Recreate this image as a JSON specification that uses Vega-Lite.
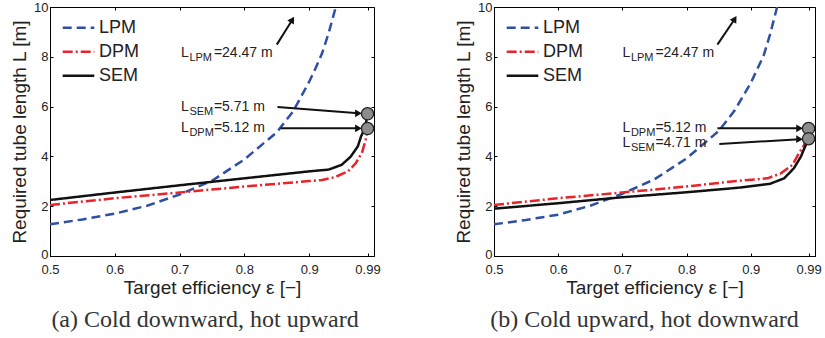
{
  "$schema": "https://vega.github.io/schema/vega-lite/v6.json",
  "background": "white",
  "padding": {"left": 10, "top": 0, "right": 5, "bottom": 0},
  "spacing": 73,
  "datasets": {
    "curves_a": [
      {"model": "LPM", "eps": 0.5, "L": 1.27}, {"model": "LPM", "eps": 0.55, "L": 1.47}, {"model": "LPM", "eps": 0.6, "L": 1.7},
      {"model": "LPM", "eps": 0.65, "L": 2.02}, {"model": "LPM", "eps": 0.7, "L": 2.47}, {"model": "LPM", "eps": 0.75, "L": 3.02},
      {"model": "LPM", "eps": 0.8, "L": 3.88}, {"model": "LPM", "eps": 0.85, "L": 4.97}, {"model": "LPM", "eps": 0.875, "L": 5.8},
      {"model": "LPM", "eps": 0.9, "L": 7.0}, {"model": "LPM", "eps": 0.91, "L": 7.55}, {"model": "LPM", "eps": 0.92, "L": 8.15},
      {"model": "LPM", "eps": 0.93, "L": 8.95}, {"model": "LPM", "eps": 0.94, "L": 9.9}, {"model": "LPM", "eps": 0.95, "L": 11.0},
      {"model": "LPM", "eps": 0.97, "L": 14.5}, {"model": "LPM", "eps": 0.99, "L": 24.47},
      {"model": "DPM", "eps": 0.5, "L": 2.05}, {"model": "DPM", "eps": 0.6, "L": 2.32}, {"model": "DPM", "eps": 0.7, "L": 2.55},
      {"model": "DPM", "eps": 0.8, "L": 2.79}, {"model": "DPM", "eps": 0.85, "L": 2.9}, {"model": "DPM", "eps": 0.9, "L": 3.01},
      {"model": "DPM", "eps": 0.92, "L": 3.05}, {"model": "DPM", "eps": 0.94, "L": 3.17}, {"model": "DPM", "eps": 0.96, "L": 3.4},
      {"model": "DPM", "eps": 0.972, "L": 3.73}, {"model": "DPM", "eps": 0.982, "L": 4.19}, {"model": "DPM", "eps": 0.987, "L": 4.66},
      {"model": "DPM", "eps": 0.99, "L": 5.12},
      {"model": "SEM", "eps": 0.5, "L": 2.25}, {"model": "SEM", "eps": 0.6, "L": 2.55}, {"model": "SEM", "eps": 0.7, "L": 2.84},
      {"model": "SEM", "eps": 0.8, "L": 3.12}, {"model": "SEM", "eps": 0.85, "L": 3.26}, {"model": "SEM", "eps": 0.9, "L": 3.4},
      {"model": "SEM", "eps": 0.93, "L": 3.47}, {"model": "SEM", "eps": 0.95, "L": 3.66}, {"model": "SEM", "eps": 0.964, "L": 3.99},
      {"model": "SEM", "eps": 0.975, "L": 4.4}, {"model": "SEM", "eps": 0.98, "L": 4.8}, {"model": "SEM", "eps": 0.9835, "L": 5.0},
      {"model": "SEM", "eps": 0.987, "L": 5.25}, {"model": "SEM", "eps": 0.99, "L": 5.71}
    ],
    "curves_b": [
      {"model": "LPM", "eps": 0.5, "L": 1.27}, {"model": "LPM", "eps": 0.55, "L": 1.45}, {"model": "LPM", "eps": 0.6, "L": 1.66},
      {"model": "LPM", "eps": 0.65, "L": 2.02}, {"model": "LPM", "eps": 0.7, "L": 2.5}, {"model": "LPM", "eps": 0.75, "L": 3.08},
      {"model": "LPM", "eps": 0.8, "L": 3.92}, {"model": "LPM", "eps": 0.85, "L": 5.02}, {"model": "LPM", "eps": 0.875, "L": 5.85},
      {"model": "LPM", "eps": 0.9, "L": 6.95}, {"model": "LPM", "eps": 0.91, "L": 7.5}, {"model": "LPM", "eps": 0.92, "L": 8.05},
      {"model": "LPM", "eps": 0.93, "L": 8.9}, {"model": "LPM", "eps": 0.94, "L": 9.9}, {"model": "LPM", "eps": 0.95, "L": 11.0},
      {"model": "LPM", "eps": 0.97, "L": 14.5}, {"model": "LPM", "eps": 0.99, "L": 24.47},
      {"model": "DPM", "eps": 0.5, "L": 2.05}, {"model": "DPM", "eps": 0.6, "L": 2.32}, {"model": "DPM", "eps": 0.7, "L": 2.55},
      {"model": "DPM", "eps": 0.8, "L": 2.79}, {"model": "DPM", "eps": 0.88, "L": 3.02}, {"model": "DPM", "eps": 0.926, "L": 3.12},
      {"model": "DPM", "eps": 0.947, "L": 3.32}, {"model": "DPM", "eps": 0.965, "L": 3.66}, {"model": "DPM", "eps": 0.975, "L": 4.13},
      {"model": "DPM", "eps": 0.983, "L": 4.45}, {"model": "DPM", "eps": 0.988, "L": 4.8}, {"model": "DPM", "eps": 0.99, "L": 5.12},
      {"model": "SEM", "eps": 0.5, "L": 1.9}, {"model": "SEM", "eps": 0.6, "L": 2.12}, {"model": "SEM", "eps": 0.7, "L": 2.36},
      {"model": "SEM", "eps": 0.8, "L": 2.56}, {"model": "SEM", "eps": 0.88, "L": 2.74}, {"model": "SEM", "eps": 0.93, "L": 2.9},
      {"model": "SEM", "eps": 0.952, "L": 3.12}, {"model": "SEM", "eps": 0.967, "L": 3.52}, {"model": "SEM", "eps": 0.978, "L": 3.99},
      {"model": "SEM", "eps": 0.983, "L": 4.3}, {"model": "SEM", "eps": 0.99, "L": 4.71}
    ],
    "notes_a": [
      {"sub": "LPM", "val": "=24.47 m", "eps": 0.702, "L": 8.15},
      {"sub": "SEM", "val": "=5.71 m", "eps": 0.702, "L": 5.98},
      {"sub": "DPM", "val": "=5.12 m", "eps": 0.702, "L": 5.13}
    ],
    "notes_b": [
      {"sub": "LPM", "val": "=24.47 m", "eps": 0.7, "L": 8.15},
      {"sub": "DPM", "val": "=5.12 m", "eps": 0.7, "L": 5.13},
      {"sub": "SEM", "val": "=4.71 m", "eps": 0.7, "L": 4.53}
    ],
    "arrows_a": [
      {"head": "up", "eps": 0.85, "L": 8.49, "eps2": 0.874, "L2": 9.49},
      {"head": "right", "eps": 0.851, "L": 5.98, "eps2": 0.976, "L2": 5.73},
      {"head": "right", "eps": 0.856, "L": 5.13, "eps2": 0.976, "L2": 5.13}
    ],
    "arrows_b": [
      {"head": "up", "eps": 0.848, "L": 8.49, "eps2": 0.875, "L2": 9.52},
      {"head": "right", "eps": 0.848, "L": 5.13, "eps2": 0.976, "L2": 5.13},
      {"head": "right", "eps": 0.851, "L": 4.5, "eps2": 0.976, "L2": 4.69}
    ],
    "circles_a": [{"eps": 0.99, "L": 5.71}, {"eps": 0.99, "L": 5.12}],
    "circles_b": [{"eps": 0.99, "L": 5.12}, {"eps": 0.99, "L": 4.71}]
  },
  "hconcat": [
    {
      "width": 324,
      "height": 249,
      "title": {"text": "(a) Cold downward, hot upward", "orient": "bottom", "anchor": "middle", "frame": "group", "offset": 11, "dx": -7},
      "layer": [
        {
          "layer": [
            {
              "data": {"name": "curves_a"},
              "mark": {"type": "line", "strokeWidth": 2.5, "clip": true},
              "encoding": {
                "x": {"field": "eps", "type": "quantitative", "scale": {"domain": [0.5, 1]},
                  "axis": {"values": [0.5, 0.6, 0.7, 0.8, 0.9, 0.99], "format": ".2~f", "title": "Target efficiency ε [−]"}},
                "y": {"field": "L", "type": "quantitative", "scale": {"domain": [0, 10]},
                  "axis": {"values": [0, 2, 4, 6, 8, 10], "title": "Required tube length L [m]", "labelOffset": {"condition": {"test": "datum.value === 0", "value": -2}, "value": 0}}},
                "color": {"field": "model", "type": "nominal", "scale": {"domain": ["LPM", "DPM", "SEM"], "range": ["#2f4fa3", "#e8232a", "#111111"]}, "legend": {"title": null, "orient": "none", "legendX": 11, "legendY": 9}},
                "strokeDash": {"field": "model", "type": "nominal", "scale": {"domain": ["LPM", "DPM", "SEM"], "range": [[9, 5], [10, 3, 2, 3], [1, 0]]}, "legend": {"title": null, "orient": "none", "legendX": 11, "legendY": 9}}
              }
            },
            {
              "data": {"name": "arrows_a"},
              "mark": {"type": "rule", "color": "#111", "strokeWidth": 2},
              "encoding": {
                "x": {"field": "eps", "type": "quantitative"}, "y": {"field": "L", "type": "quantitative"},
                "x2": {"field": "eps2"}, "y2": {"field": "L2"}
              }
            },
            {
              "data": {"name": "arrows_a"},
              "transform": [{"filter": "datum.head === 'right'"}],
              "mark": {"type": "point", "shape": "triangle-right", "filled": true, "size": 60, "color": "#111", "opacity": 1},
              "encoding": {"x": {"field": "eps2", "type": "quantitative"}, "y": {"field": "L2", "type": "quantitative"}}
            },
            {
              "data": {"name": "arrows_a"},
              "transform": [{"filter": "datum.head === 'up'"}],
              "mark": {"type": "point", "shape": "triangle-up", "angle": 32, "filled": true, "size": 60, "color": "#111", "opacity": 1},
              "encoding": {"x": {"field": "eps2", "type": "quantitative"}, "y": {"field": "L2", "type": "quantitative"}}
            },
            {
              "data": {"name": "circles_a"},
              "mark": {"type": "point", "shape": "circle", "filled": true, "size": 150, "fill": "#8c8c8c", "stroke": "#222", "strokeWidth": 1.3, "opacity": 1},
              "encoding": {"x": {"field": "eps", "type": "quantitative"}, "y": {"field": "L", "type": "quantitative"}}
            },
            {
              "data": {"name": "notes_a"},
              "mark": {"type": "text", "text": "L", "align": "left", "baseline": "middle", "fontSize": 14, "color": "#222"},
              "encoding": {"x": {"field": "eps", "type": "quantitative"}, "y": {"field": "L", "type": "quantitative"}}
            },
            {
              "data": {"name": "notes_a"},
              "mark": {"type": "text", "align": "left", "baseline": "middle", "fontSize": 11, "dx": 8.5, "dy": 5, "color": "#222"},
              "encoding": {"x": {"field": "eps", "type": "quantitative"}, "y": {"field": "L", "type": "quantitative"}, "text": {"field": "sub"}}
            },
            {
              "data": {"name": "notes_a"},
              "mark": {"type": "text", "align": "left", "baseline": "middle", "fontSize": 14, "dx": 33, "color": "#222"},
              "encoding": {"x": {"field": "eps", "type": "quantitative"}, "y": {"field": "L", "type": "quantitative"}, "text": {"field": "val"}}
            }
          ]
        },
        {
          "data": {"name": "circles_a"},
          "mark": {"type": "point", "opacity": 0},
          "encoding": {
            "x": {"field": "eps", "type": "quantitative", "axis": {"orient": "top", "labels": false, "title": null, "domain": false, "values": [0.5, 0.6, 0.7, 0.8, 0.9, 0.99]}},
            "y": {"field": "L", "type": "quantitative", "axis": {"orient": "right", "labels": false, "title": null, "domain": false, "values": [0, 2, 4, 6, 8, 10]}}
          }
        }
      ],
      "resolve": {"axis": {"x": "independent", "y": "independent"}}
    },
    {
      "width": 321,
      "height": 249,
      "title": {"text": "(b) Cold upward, hot downward", "orient": "bottom", "anchor": "middle", "frame": "group", "offset": 11, "dx": -10},
      "layer": [
        {
          "layer": [
            {
              "data": {"name": "curves_b"},
              "mark": {"type": "line", "strokeWidth": 2.5, "clip": true},
              "encoding": {
                "x": {"field": "eps", "type": "quantitative", "scale": {"domain": [0.5, 1]},
                  "axis": {"values": [0.5, 0.6, 0.7, 0.8, 0.9, 0.99], "format": ".2~f", "title": "Target efficiency ε [−]"}},
                "y": {"field": "L", "type": "quantitative", "scale": {"domain": [0, 10]},
                  "axis": {"values": [0, 2, 4, 6, 8, 10], "title": "Required tube length L [m]", "labelOffset": {"condition": {"test": "datum.value === 0", "value": -2}, "value": 0}}},
                "color": {"field": "model", "type": "nominal", "scale": {"domain": ["LPM", "DPM", "SEM"], "range": ["#2f4fa3", "#e8232a", "#111111"]}, "legend": {"title": null, "orient": "none", "legendX": 11, "legendY": 9}},
                "strokeDash": {"field": "model", "type": "nominal", "scale": {"domain": ["LPM", "DPM", "SEM"], "range": [[9, 5], [10, 3, 2, 3], [1, 0]]}, "legend": {"title": null, "orient": "none", "legendX": 11, "legendY": 9}}
              }
            },
            {
              "data": {"name": "arrows_b"},
              "mark": {"type": "rule", "color": "#111", "strokeWidth": 2},
              "encoding": {
                "x": {"field": "eps", "type": "quantitative"}, "y": {"field": "L", "type": "quantitative"},
                "x2": {"field": "eps2"}, "y2": {"field": "L2"}
              }
            },
            {
              "data": {"name": "arrows_b"},
              "transform": [{"filter": "datum.head === 'right'"}],
              "mark": {"type": "point", "shape": "triangle-right", "filled": true, "size": 60, "color": "#111", "opacity": 1},
              "encoding": {"x": {"field": "eps2", "type": "quantitative"}, "y": {"field": "L2", "type": "quantitative"}}
            },
            {
              "data": {"name": "arrows_b"},
              "transform": [{"filter": "datum.head === 'up'"}],
              "mark": {"type": "point", "shape": "triangle-up", "angle": 32, "filled": true, "size": 60, "color": "#111", "opacity": 1},
              "encoding": {"x": {"field": "eps2", "type": "quantitative"}, "y": {"field": "L2", "type": "quantitative"}}
            },
            {
              "data": {"name": "circles_b"},
              "mark": {"type": "point", "shape": "circle", "filled": true, "size": 150, "fill": "#8c8c8c", "stroke": "#222", "strokeWidth": 1.3, "opacity": 1},
              "encoding": {"x": {"field": "eps", "type": "quantitative"}, "y": {"field": "L", "type": "quantitative"}}
            },
            {
              "data": {"name": "notes_b"},
              "mark": {"type": "text", "text": "L", "align": "left", "baseline": "middle", "fontSize": 14, "color": "#222"},
              "encoding": {"x": {"field": "eps", "type": "quantitative"}, "y": {"field": "L", "type": "quantitative"}}
            },
            {
              "data": {"name": "notes_b"},
              "mark": {"type": "text", "align": "left", "baseline": "middle", "fontSize": 11, "dx": 8.5, "dy": 5, "color": "#222"},
              "encoding": {"x": {"field": "eps", "type": "quantitative"}, "y": {"field": "L", "type": "quantitative"}, "text": {"field": "sub"}}
            },
            {
              "data": {"name": "notes_b"},
              "mark": {"type": "text", "align": "left", "baseline": "middle", "fontSize": 14, "dx": 33, "color": "#222"},
              "encoding": {"x": {"field": "eps", "type": "quantitative"}, "y": {"field": "L", "type": "quantitative"}, "text": {"field": "val"}}
            }
          ]
        },
        {
          "data": {"name": "circles_b"},
          "mark": {"type": "point", "opacity": 0},
          "encoding": {
            "x": {"field": "eps", "type": "quantitative", "axis": {"orient": "top", "labels": false, "title": null, "domain": false, "values": [0.5, 0.6, 0.7, 0.8, 0.9, 0.99]}},
            "y": {"field": "L", "type": "quantitative", "axis": {"orient": "right", "labels": false, "title": null, "domain": false, "values": [0, 2, 4, 6, 8, 10]}}
          }
        }
      ],
      "resolve": {"axis": {"x": "independent", "y": "independent"}}
    }
  ],
  "resolve": {"scale": {"color": "independent", "strokeDash": "independent"}},
  "config": {
    "font": "Liberation Sans",
    "view": {"stroke": "#000", "strokeWidth": 1},
    "axis": {
      "grid": false,
      "domainColor": "#000",
      "domainWidth": 1,
      "tickColor": "#000",
      "tickSize": -3,
      "labelFont": "Liberation Sans",
      "labelFontSize": 13,
      "labelColor": "#222",
      "labelPadding": 5,
      "labelOverlap": false,
      "labelFlush": false,
      "titleFont": "Liberation Sans",
      "titleFontSize": 19,
      "titleFontWeight": "normal",
      "titleColor": "#222",
      "titlePadding": 4
    },
    "axisX": {"labelPadding": 10, "titlePadding": 2},
    "legend": {
      "padding": 0,
      "labelFont": "Liberation Sans",
      "labelFontSize": 18,
      "labelColor": "#222",
      "labelOffset": 3,
      "symbolType": "stroke",
      "symbolSize": 1000,
      "symbolStrokeWidth": 2.5,
      "rowPadding": 0,
      "clipHeight": 23.5
    },
    "title": {"font": "Liberation Serif", "fontSize": 24, "fontWeight": "normal", "color": "#333"}
  }
}
